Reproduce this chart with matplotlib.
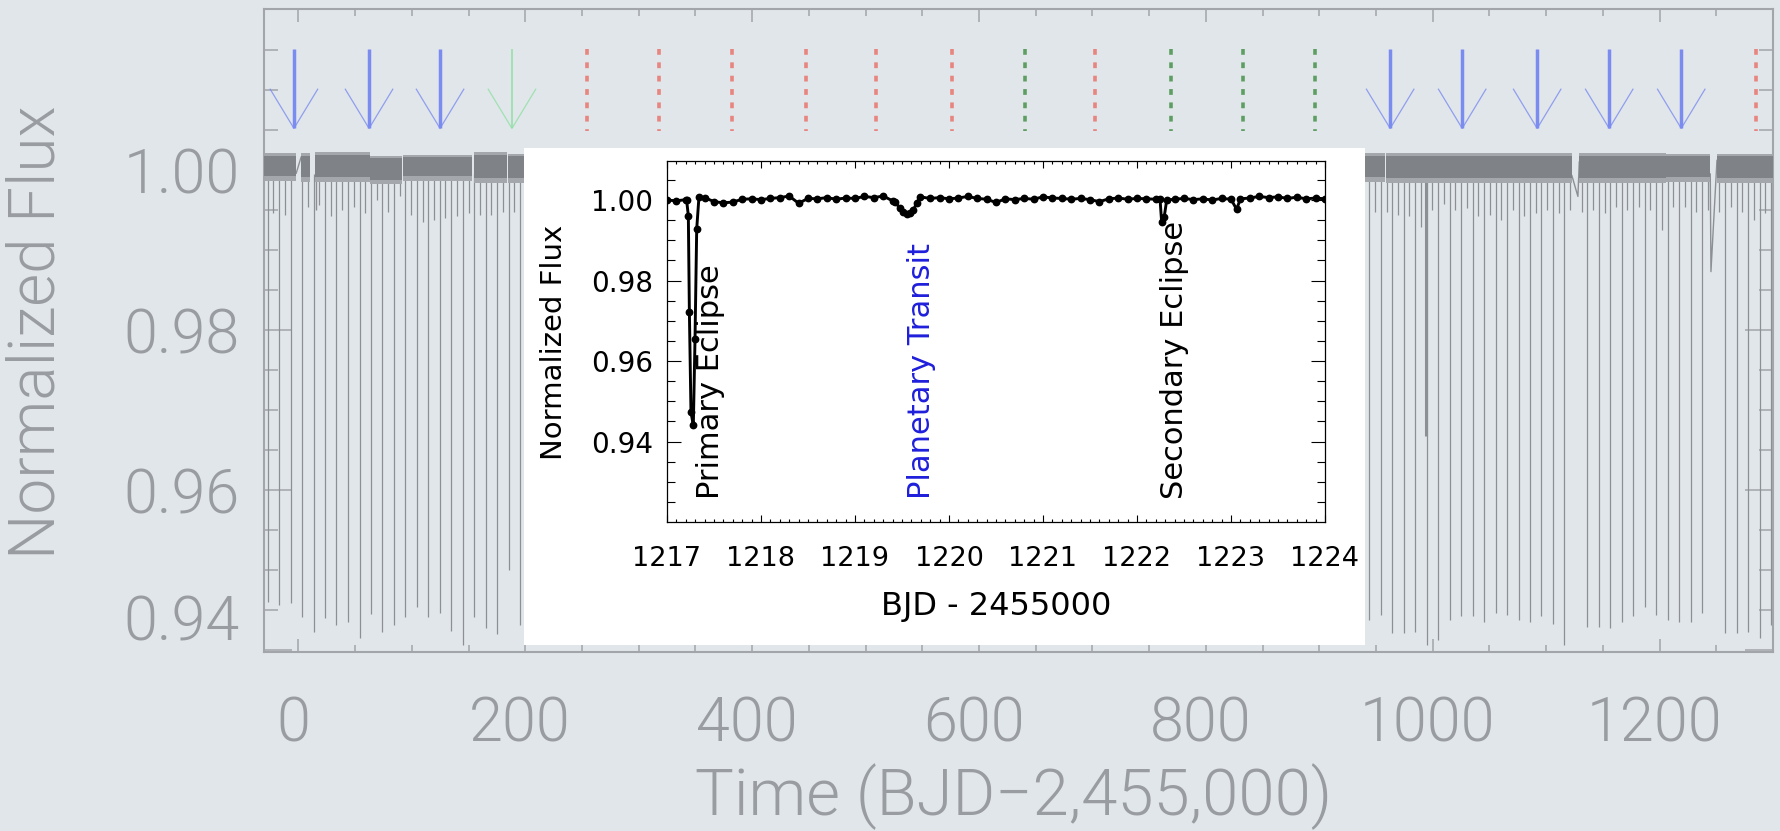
import numpy as np
import matplotlib
matplotlib.use("Agg")
import matplotlib.pyplot as plt
from matplotlib.patches import Rectangle
from matplotlib.ticker import FixedLocator, MultipleLocator, FormatStrFormatter
from matplotlib.transforms import ScaledTranslation

plt.rcParams['font.family'] = ['DejaVu Sans']

# ---------------------------------------------------------------- data
# continuous light-curve band (Kepler segments): start/end day, upper/lower flux
band_start = [-30.3, 2.4, 15.0, 63.5, 92.0, 154.5, 184.5, 940.5, 958.9, 984.5, 1047.8, 1129.2, 1205.3, 1250.6]
band_end = [-1.9, 10.5, 63.5, 91.0, 153.5, 183.5, 198.5, 958.1, 1047.8, 997.5, 1122.7, 1205.3, 1244.7, 1300.2]
band_top = [1.0019, 1.0019, 1.0020, 1.0016, 1.0017, 1.0020, 1.0018, 1.0019, 1.0019, 0.9992, 1.0019, 1.0019, 1.0018, 1.0018]
band_bot = [0.9992, 0.9991, 0.9991, 0.9988, 0.9992, 0.9990, 0.9990, 0.9991, 0.9990, 0.9990, 0.9990, 0.9990, 0.9991, 0.9990]

# primary eclipses: time (BJD-2455000) and lowest sampled flux
prim_t = [-27.0, -16.9, -6.8, 3.3, 13.4, 23.5, 33.6, 43.7, 53.9, 64.0, 74.1, 84.2,
          94.3, 104.4, 114.5, 124.7, 134.8, 144.9, 155.0, 165.1, 175.2, 185.3, 195.4,
          944.1, 954.3, 964.4, 974.5, 984.6, 994.7, 1004.8, 1015.0, 1025.1, 1035.2,
          1045.3, 1055.4, 1065.5, 1075.7, 1085.8, 1095.9, 1106.0, 1116.1, 1136.3,
          1146.5, 1156.6, 1166.7, 1176.8, 1186.9, 1197.0, 1207.2, 1217.3, 1227.4,
          1237.5, 1257.7, 1267.9, 1278.0, 1288.1, 1298.2]
prim_min = [0.9460, 0.9456, 0.9459, 0.9441, 0.9423, 0.9440, 0.9431, 0.9435, 0.9415, 0.9445, 0.9423, 0.9431,
            0.9441, 0.9454, 0.9441, 0.9446, 0.9424, 0.9406, 0.9441, 0.9427, 0.9420, 0.9500, 0.9431,
            0.9438, 0.9444, 0.9421, 0.9421, 0.9423, 0.9406, 0.9413, 0.9438, 0.9442, 0.9442,
            0.9435, 0.9446, 0.9444, 0.9438, 0.9435, 0.9442, 0.9433, 0.9406, 0.9429,
            0.9429, 0.9427, 0.9435, 0.9442, 0.9454, 0.9444, 0.9438, 0.9435, 0.9435,
            0.9446, 0.9421, 0.9421, 0.9423, 0.9415, 0.9431]

# secondary eclipses
sec_t = [-22.0, -11.8, 8.4, 18.5, 28.6, 38.7, 48.9, 59.0, 69.1, 79.2, 89.3, 99.4, 109.5,
         119.6, 129.7, 139.8, 150.0, 160.1, 170.2, 180.3, 190.4,
         949.2, 959.3, 969.4, 979.5, 989.7, 999.8, 1009.9, 1020.0, 1030.1, 1040.2, 1050.4,
         1060.5, 1070.6, 1080.7, 1090.8, 1100.9, 1111.0, 1121.2, 1131.3, 1141.4, 1151.5,
         1161.6, 1171.7, 1181.9, 1192.0, 1202.1, 1212.2, 1222.3, 1232.4, 1242.5, 1252.7,
         1262.8, 1272.9, 1283.0, 1293.1]
sec_min = [0.9946, 0.9944, 0.9954, 0.9956, 0.9942, 0.9950, 0.9954, 0.9946, 0.9962, 0.9948, 0.9967, 0.9944, 0.9935,
           0.9938, 0.9940, 0.9942, 0.9946, 0.9944, 0.9944, 0.9948, 0.9948,
           0.9948, 0.9948, 0.9944, 0.9942, 0.9929, 0.9950, 0.9958, 0.9950, 0.9952, 0.9942, 0.9944,
           0.9938, 0.9950, 0.9942, 0.9946, 0.9950, 0.9946, 0.9950, 0.9948, 0.9950, 0.9946,
           0.9954, 0.9950, 0.9954, 0.9950, 0.9925, 0.9954, 0.9954, 0.9948, 0.9950, 0.9948,
           0.9954, 0.9948, 0.9938, 0.9946]

# data-gap connectors and isolated low points
gap1_t, gap1_f = [-1.9, 2.4], [0.9996, 1.0016]
gap2_t, gap2_f = [1122.7, 1128.0, 1129.2], [0.9993, 0.9967, 1.0010]
gap3_t, gap3_f = [1244.7, 1245.3, 1250.6], [0.9995, 0.9873, 1.0012]
low_t, low_f = [15.5, 994.0], [0.9950, 0.9667]

# planet-transit markers (arrows = observed, dotted = predicted/missed)
arrow_t = [-3.9, 62.3, 124.9, 188.3, 962.5, 1026.0, 1092.1, 1155.6, 1219.1]
arrow_kind = ['blue', 'blue', 'blue', 'green', 'blue', 'blue', 'blue', 'blue', 'blue']
dot_t = [254.5, 317.6, 382.3, 447.5, 509.3, 576.3, 640.7, 702.4, 769.5, 832.9, 896.4, 1285.2]
dot_kind = ['red', 'red', 'red', 'red', 'red', 'red', 'green', 'red', 'green', 'green', 'green', 'red']

# inset light curve (zoom around BJD 2456217-2456224)
inset_t = [1217.00, 1217.10, 1217.20, 1217.209, 1217.227, 1217.238, 1217.255, 1217.280, 1217.298,
           1217.316, 1217.340, 1217.40, 1217.50, 1217.60, 1217.70, 1217.80, 1217.90, 1218.00,
           1218.10, 1218.20, 1218.30, 1218.40, 1218.50, 1218.60, 1218.70, 1218.80, 1218.90,
           1219.00, 1219.10, 1219.20, 1219.30, 1219.40, 1219.426, 1219.479, 1219.514, 1219.550,
           1219.585, 1219.620, 1219.656, 1219.690, 1219.80, 1219.90, 1220.00, 1220.10, 1220.20,
           1220.30, 1220.40, 1220.50, 1220.60, 1220.70, 1220.80, 1220.90, 1221.00, 1221.10,
           1221.20, 1221.30, 1221.40, 1221.50, 1221.60, 1221.70, 1221.80, 1221.90, 1222.00,
           1222.10, 1222.20, 1222.245, 1222.262, 1222.290, 1222.316, 1222.40, 1222.50, 1222.60,
           1222.70, 1222.80, 1222.90, 1223.00, 1223.06, 1223.10, 1223.20, 1223.30, 1223.40,
           1223.50, 1223.60, 1223.70, 1223.80, 1223.90, 1224.00]
inset_f = [1.0000, 0.9998, 1.0001, 0.9999, 0.9961, 0.9723, 0.9473, 0.9440, 0.9654,
           0.9928, 1.0008, 1.0006, 0.9996, 0.9993, 0.9995, 1.0002, 1.0003, 1.0001,
           1.0004, 1.0006, 1.0010, 0.9992, 1.0004, 1.0003, 1.0006, 1.0002, 1.0005,
           1.0004, 1.0009, 1.0006, 1.0010, 0.9998, 0.9996, 0.9979, 0.9971, 0.9965,
           0.9968, 0.9975, 0.9992, 1.0008, 1.0004, 1.0006, 1.0003, 1.0005, 1.0009,
           1.0004, 1.0002, 0.9994, 1.0003, 1.0001, 1.0004, 1.0002, 1.0008, 1.0005,
           1.0004, 1.0002, 1.0004, 1.0001, 0.9996, 1.0003, 1.0005, 1.0002, 1.0004,
           1.0003, 1.0002, 1.0002, 0.9946, 0.9959, 1.0000, 1.0002, 1.0004, 1.0001,
           1.0003, 1.0000, 1.0004, 1.0002, 0.9977, 1.0003, 1.0005, 1.0009, 1.0006,
           1.0008, 1.0004, 1.0007, 1.0003, 1.0005, 1.0003]

main_xticks = [0, 200, 400, 600, 800, 1000, 1200]
main_yticks = [0.94, 0.96, 0.98, 1.00]
inset_xticks = [1217, 1218, 1219, 1220, 1221, 1222, 1223, 1224]
inset_yticks = [0.94, 0.96, 0.98, 1.00]

labels = dict(primary="Primary Eclipse", planet="Planetary Transit", secondary="Secondary Eclipse")
label_x = [1217.556, 1219.80, 1222.49]

# ---------------------------------------------------------------- style
W, H, DPI = 1781, 831, 100
BG = '#e1e6ea'
TXT = '#999da1'
TICKC = '#a2a6aa'
BAND = '#7f8387'
FRINGE = '#a4a8ac'
LINEC = '#8c9094'
COL = {'blue': '#7b8cf0', 'green': '#8fe0a4', 'red': '#e8857e', 'dgreen': '#5e9e62'}
MAINFONT = dict(family=['Roboto', 'DejaVu Sans'], weight=300)

fig = plt.figure(figsize=(W / DPI, H / DPI), dpi=DPI, facecolor=BG)
ax = fig.add_axes([264 / W, 1 - 652 / H, (1773 - 264) / W, (652 - 9) / H])
ax.set_facecolor(BG)
ax.set_xlim(-30.3, 1300.0)
ax.set_ylim(0.93975, 1.020125)

for s, e, t, b in zip(band_start, band_end, band_top, band_bot):
    ax.fill_between([s, e], [b - 0.0006, b - 0.0006], [t + 0.0002, t + 0.0002],
                    color=FRINGE, lw=0, zorder=2.5)
    ax.fill_between([s, e], [b, b], [t - 0.0001, t - 0.0001], color=BAND, lw=0, zorder=3)
ax.vlines(prim_t, prim_min, 0.9995, color=LINEC, lw=0.9, zorder=2)
ax.vlines(sec_t, sec_min, 0.9992, color=LINEC, lw=0.9, zorder=2)
for gt, gf in [(gap1_t, gap1_f), (gap2_t, gap2_f), (gap3_t, gap3_f)]:
    ax.plot(gt, gf, color=LINEC, lw=1.0, zorder=2)
ax.vlines(low_t, low_f, 0.9995, color=LINEC, lw=[1.0, 2.2], zorder=2)

# arrows and dotted markers
y_top, y_head, y_tip = 1.0151, 1.0101, 1.0052
dx = 23.75 / ((1773 - 264) / (1300.0 + 30.3))
for t, k in zip(arrow_t, arrow_kind):
    c = COL[k]
    ax.plot([t, t], [y_top, y_tip], color=c, lw=2.5 if k == 'blue' else 1.1,
            solid_capstyle='butt', zorder=4)
    ax.plot([t - dx, t, t + dx], [y_head, y_tip, y_head], color=c, lw=0.9, alpha=0.8, zorder=4)
for t, k in zip(dot_t, dot_kind):
    c = COL['red'] if k == 'red' else COL['dgreen']
    ax.plot([t, t], [y_top, 1.0049], color=c, lw=2.6, linestyle=(0, (1.6, 2.1)),
            dash_capstyle='butt', zorder=4)

ax.xaxis.set_major_locator(FixedLocator(main_xticks))
ax.xaxis.set_minor_locator(MultipleLocator(50))
ax.yaxis.set_major_locator(FixedLocator(main_yticks))
ax.yaxis.set_minor_locator(FixedLocator(list(np.arange(0.945, 1.0176, 0.005))))
ax.yaxis.set_major_formatter(FormatStrFormatter('%.2f'))
ax.tick_params(which='both', direction='in', top=True, right=True, color=TICKC, width=1.1)
ax.tick_params(axis='x', which='major', length=9.4, pad=31.0, labelsize=44, labelcolor=TXT)
ax.tick_params(axis='x', which='minor', length=5)
ax.tick_params(axis='y', which='major', length=20, pad=17.3, labelsize=44, labelcolor=TXT)
ax.tick_params(axis='y', which='minor', length=10)
for sp in ax.spines.values():
    sp.set_color(TICKC)
    sp.set_linewidth(1.5)
xoff = ScaledTranslation(-5 / DPI, 0, fig.dpi_scale_trans)
for lab in ax.get_xticklabels():
    lab.set_fontfamily(MAINFONT['family'])
    lab.set_fontweight(MAINFONT['weight'])
    lab.set_transform(lab.get_transform() + xoff)
for lab in ax.get_yticklabels():
    lab.set_fontfamily(MAINFONT['family'])
    lab.set_fontweight(MAINFONT['weight'])
    if lab.get_text() == '0.94':
        lab.set_transform(lab.get_transform() + ScaledTranslation(0, 33 / DPI, fig.dpi_scale_trans))

fig.text(55 / W, 1 - 332 / H, 'Normalized Flux', rotation=90, rotation_mode='anchor',
         ha='center', va='baseline', fontsize=46, color=TXT, **MAINFONT)
fig.text(1014 / W, 1 - 815 / H, 'Time (BJD\u22122,455,000)', ha='center', va='baseline',
         fontsize=47, color=TXT, **MAINFONT)

# white panel behind inset
fig.add_artist(Rectangle((524 / W, 1 - 645 / H), (1365 - 524) / W, (645 - 148) / H,
                         transform=fig.transFigure, facecolor='white', edgecolor='none', zorder=2))

axi = fig.add_axes([667 / W, 1 - 522 / H, (1325 - 667) / W, (522 - 161) / H], facecolor='white')
axi.set_zorder(3)
axi.set_xlim(1217, 1224)
axi.set_ylim(0.92, 1.0097)
axi.plot(inset_t, inset_f, color='black', lw=2.1, marker='o', ms=4.6, zorder=3)
axi.xaxis.set_major_locator(FixedLocator(inset_xticks))
axi.xaxis.set_minor_locator(MultipleLocator(0.1))
axi.yaxis.set_major_locator(FixedLocator(inset_yticks))
axi.yaxis.set_minor_locator(FixedLocator(list(np.arange(0.925, 1.0076, 0.005))))
axi.yaxis.set_major_formatter(FormatStrFormatter('%.2f'))
axi.tick_params(which='both', direction='in', top=True, right=True, color='black', width=0.8)
axi.tick_params(axis='x', which='major', length=5, pad=17, labelsize=19.5)
axi.tick_params(axis='x', which='minor', length=2.5)
axi.tick_params(axis='y', which='major', length=10, pad=10, labelsize=20)
axi.tick_params(axis='y', which='minor', length=5.5)
for sp in axi.spines.values():
    sp.set_linewidth(0.9)

fig.text(562 / W, 1 - 342 / H, 'Normalized Flux', rotation=90, rotation_mode='anchor',
         ha='center', va='baseline', fontsize=21, color='black', zorder=5)
fig.text(996 / W, 1 - 615 / H, 'BJD - 2455000', ha='center', va='baseline', fontsize=23,
         color='black', zorder=5)

ann_y = 0.92568
for (key, txt), x, c in zip(labels.items(), label_x, ['black', '#1f1fdc', 'black']):
    axi.text(x, ann_y, txt, rotation=90, rotation_mode='anchor', ha='left', va='baseline',
             fontsize=22, color=c, zorder=5)

fig.savefig('out.png', dpi=DPI, facecolor=BG)
